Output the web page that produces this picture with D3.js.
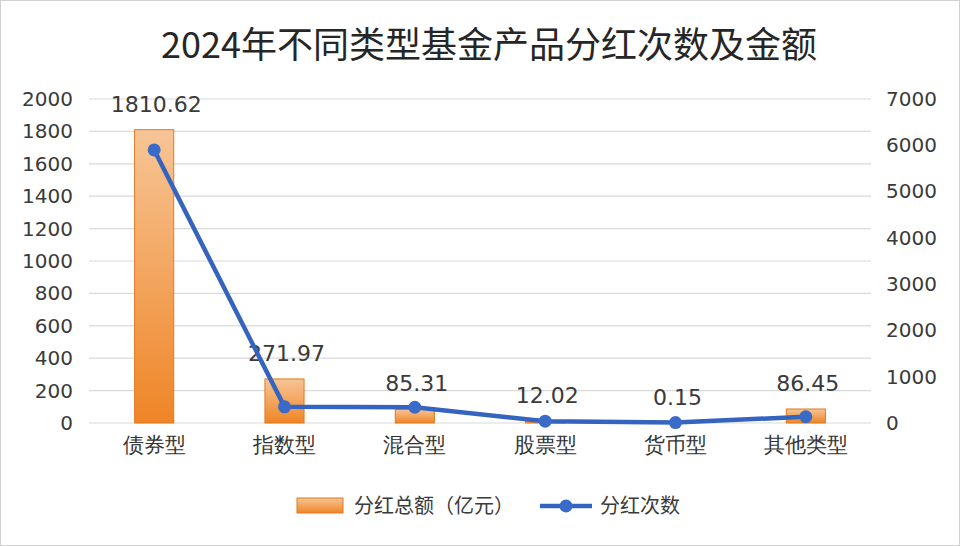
<!DOCTYPE html>
<html><head><meta charset="utf-8">
<script src="https://cdn.jsdelivr.net/npm/d3@7"></script>
<style>
html,body{margin:0;padding:0;background:#fff;}
svg{display:block;font-family:"Noto Sans CJK SC","Noto Sans",sans-serif;}
</style></head>
<body><svg id="c" width="960" height="546"></svg>
<script>
const categories = ["债券型","指数型","混合型","股票型","货币型","其他类型"];
const amounts = [1810.62, 271.97, 85.31, 12.02, 0.15, 86.45];
const counts = [5900, 350, 340, 40, 10, 135];
const leftTicks = [0,200,400,600,800,1000,1200,1400,1600,1800,2000];
const rightTicks = [0,1000,2000,3000,4000,5000,6000,7000];
const titleText = "2024年不同类型基金产品分红次数及金额";
const legendLabels = ["分红总额（亿元）","分红次数"];

const svg = d3.select("#c");
const W=960,H=546;
svg.append("rect").attr("x",0.5).attr("y",0.5).attr("width",W-1).attr("height",H-1).attr("fill","#fff").attr("stroke","#d0d0d0");

const defs = svg.append("defs");
const g1 = defs.append("linearGradient").attr("id","barGrad").attr("x1",0).attr("y1",0).attr("x2",0).attr("y2",1);
g1.append("stop").attr("offset","0%").attr("stop-color","#f7c596");
g1.append("stop").attr("offset","100%").attr("stop-color","#ef8526");

const x = d3.scaleBand().domain(categories).range([89,871]).paddingInner(0.7).paddingOuter(0.35);
const yL = d3.scaleLinear().domain([0,2000]).range([423,99]);
const yR = d3.scaleLinear().domain([0,7000]).range([423,99]);
const numFont = "'DejaVu Sans','Open Sans',sans-serif";

// gridlines
svg.append("g").selectAll("line").data(leftTicks).join("line")
  .attr("x1",89).attr("x2",871).attr("y1",d=>yL(d)).attr("y2",d=>yL(d))
  .attr("stroke","#d9d9d9").attr("stroke-width",1.2);

// left axis
const axL = svg.append("g").attr("transform","translate(89,0)")
  .call(d3.axisLeft(yL).tickValues(leftTicks).tickFormat(d3.format("d")).tickSize(0).tickPadding(16));
axL.select(".domain").remove();
axL.selectAll("text").attr("font-size",20).attr("fill","#3a3a3a").attr("font-family",numFont);

// right axis
const axR = svg.append("g").attr("transform","translate(871,0)")
  .call(d3.axisRight(yR).tickValues(rightTicks).tickFormat(d3.format("d")).tickSize(0).tickPadding(15));
axR.select(".domain").remove();
axR.selectAll("text").attr("font-size",20).attr("fill","#3a3a3a").attr("font-family",numFont);

// x axis
const axX = svg.append("g").attr("transform","translate(0,423)")
  .call(d3.axisBottom(x).tickSize(0).tickPadding(14));
axX.select(".domain").remove();
axX.selectAll("text").attr("font-size",21).attr("fill","#333");

// bars
svg.append("g").selectAll("rect").data(categories).join("rect")
  .attr("x",d=>x(d)).attr("width",x.bandwidth())
  .attr("y",(d,i)=>yL(amounts[i])).attr("height",(d,i)=>yL(0)-yL(amounts[i]))
  .attr("fill","url(#barGrad)").attr("stroke","#e07a1f").attr("stroke-width",1);

// bar labels
svg.append("g").selectAll("text").data(categories).join("text")
  .attr("x",d=>x(d)+x.bandwidth()/2+2).attr("y",(d,i)=>yL(amounts[i])-18)
  .attr("text-anchor","middle").attr("font-size",22).attr("fill","#3a3a3a")
  .attr("font-family",numFont)
  .text((d,i)=>amounts[i].toFixed(2));

// line
const line = d3.line().x((d,i)=>x(categories[i])+x.bandwidth()/2).y(d=>yR(d));
svg.append("path").datum(counts).attr("d",line).attr("fill","none")
  .attr("stroke","#3563c0").attr("stroke-width",4.5).attr("stroke-linejoin","round");
svg.append("g").selectAll("circle").data(counts).join("circle")
  .attr("cx",(d,i)=>x(categories[i])+x.bandwidth()/2).attr("cy",d=>yR(d)).attr("r",6.5)
  .attr("fill","#3a6bc8");

// title
svg.append("text").attr("x",489).attr("y",58).attr("text-anchor","middle")
  .attr("font-size",36).attr("fill","#262626").text(titleText);

// legend
const lg = svg.append("g");
lg.append("rect").attr("x",297).attr("y",498).attr("width",46).attr("height",15)
  .attr("fill","url(#barGrad)").attr("stroke","#e07a1f");
lg.append("text").attr("x",354).attr("y",513).attr("font-size",20).attr("fill","#3a3a3a").text(legendLabels[0]);
lg.append("line").attr("x1",540).attr("x2",592).attr("y1",506).attr("y2",506).attr("stroke","#3563c0").attr("stroke-width",4.5);
lg.append("circle").attr("cx",566).attr("cy",506).attr("r",6.5).attr("fill","#3a6bc8");
lg.append("text").attr("x",600).attr("y",513).attr("font-size",20).attr("fill","#3a3a3a").text(legendLabels[1]);
</script></body></html>
